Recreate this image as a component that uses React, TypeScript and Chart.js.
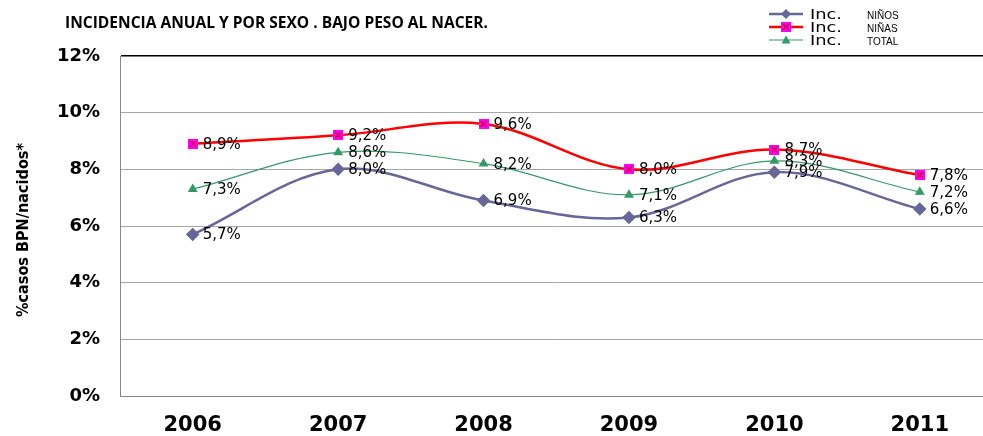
import React, { useEffect, useRef } from "react";
import { Chart, registerables } from "chart.js";

Chart.register(...registerables);

const categories = ["2006", "2007", "2008", "2009", "2010", "2011"];
const ninos = [5.7, 8.0, 6.9, 6.3, 7.9, 6.6];
const ninas = [8.9, 9.2, 9.6, 8.0, 8.7, 7.8];
const total = [7.3, 8.6, 8.2, 7.1, 8.3, 7.2];
const seriesNames = ["NIÑOS", "NIÑAS", "TOTAL"];
const legendPrefix = "Inc.";
const chartTitle = "INCIDENCIA ANUAL Y POR SEXO . BAJO PESO AL NACER.";
const yTitle = "%casos BPN/nacidos*";
const yMin = 0;
const yMax = 12;
const yStep = 2;

const colors = ["#666699", "#FF0000", "#339966"];

function makeCrossSquare(): HTMLCanvasElement {
  const c = document.createElement("canvas");
  c.width = 10;
  c.height = 10;
  const g = c.getContext("2d")!;
  g.fillStyle = "#FF00FF";
  g.fillRect(0, 0, 10, 10);
  g.strokeStyle = "#CC0033";
  g.lineWidth = 1.5;
  g.beginPath();
  g.moveTo(2, 2);
  g.lineTo(8, 8);
  g.moveTo(8, 2);
  g.lineTo(2, 8);
  g.stroke();
  return c;
}

function fitText(ctx: CanvasRenderingContext2D, text: string, x: number, y: number, width: number) {
  const w = ctx.measureText(text).width;
  ctx.save();
  ctx.translate(x, y);
  ctx.scale(width / w, 1);
  ctx.fillText(text, 0, 0);
  ctx.restore();
}

function fmt(v: number) {
  return v.toFixed(1).replace(".", ",") + "%";
}

function drawMarker(ctx: CanvasRenderingContext2D, style: any, x: number, y: number, color: string) {
  ctx.save();
  ctx.fillStyle = color;
  if (style === "rectRot") {
    ctx.beginPath();
    ctx.moveTo(x, y - 5);
    ctx.lineTo(x + 5, y);
    ctx.lineTo(x, y + 5);
    ctx.lineTo(x - 5, y);
    ctx.closePath();
    ctx.fill();
  } else if (style === "triangle") {
    ctx.beginPath();
    ctx.moveTo(x, y - 4.5);
    ctx.lineTo(x + 4.5, y + 3.5);
    ctx.lineTo(x - 4.5, y + 3.5);
    ctx.closePath();
    ctx.fill();
  } else if (style instanceof HTMLCanvasElement) {
    ctx.drawImage(style, x - 5, y - 5);
  }
  ctx.restore();
}

export default function App() {
  const ref = useRef<HTMLCanvasElement | null>(null);

  useEffect(() => {
    if (!ref.current) return;
    const crossSquare = makeCrossSquare();

    const decorPlugin = {
      id: "decor",
      afterDatasetsDraw(chart: any) {
        const ctx: CanvasRenderingContext2D = chart.ctx;
        ctx.save();
        ctx.fillStyle = "#000";
        ctx.font = "15px 'DejaVu Sans'";
        ctx.textAlign = "left";
        ctx.textBaseline = "middle";
        chart.data.datasets.forEach((ds: any, i: number) => {
          const meta = chart.getDatasetMeta(i);
          meta.data.forEach((pt: any, j: number) => {
            ctx.fillText(fmt(ds.data[j]), pt.x + 10, pt.y + 1);
          });
        });
        ctx.restore();
      },
      afterDraw(chart: any) {
        const ctx: CanvasRenderingContext2D = chart.ctx;
        ctx.save();
        // title
        ctx.fillStyle = "#000";
        ctx.font = "bold 16px 'Open Sans'";
        ctx.textAlign = "left";
        ctx.textBaseline = "alphabetic";
        fitText(ctx, chartTitle, 65, 28, 423);

        // y title
        ctx.save();
        ctx.translate(28, 230);
        ctx.rotate(-Math.PI / 2);
        ctx.font = "bold 15px 'DejaVu Sans Condensed'";
        ctx.textAlign = "left";
        ctx.textBaseline = "alphabetic";
        const w = ctx.measureText(yTitle).width;
        ctx.scale(174 / w, 1);
        ctx.fillText(yTitle, -w / 2, 0);
        ctx.restore();

        // legend
        const rows = [14, 27, 40];
        chart.data.datasets.forEach((ds: any, i: number) => {
          const y = rows[i];
          ctx.strokeStyle = ds.borderColor;
          ctx.lineWidth = i === 2 ? 1.2 : 2.5;
          ctx.beginPath();
          ctx.moveTo(769, y);
          ctx.lineTo(803, y);
          ctx.stroke();
          drawMarker(ctx, ds.pointStyle, 786, y, ds.pointBackgroundColor);
          ctx.fillStyle = "#000";
          ctx.font = "14px 'DejaVu Sans'";
          ctx.textBaseline = "alphabetic";
          fitText(ctx, legendPrefix, 810, y + 5, 32);
          ctx.font = "10px 'Liberation Sans'";
          ctx.textBaseline = "middle";
          ctx.fillText(seriesNames[i], 867, y + 2);
        });
        ctx.restore();
      },
    };

    const chart = new Chart(ref.current, {
      type: "line",
      data: {
        labels: categories,
        datasets: [
          {
            label: seriesNames[0],
            data: ninos,
            borderColor: colors[0],
            backgroundColor: colors[0],
            pointBackgroundColor: colors[0],
            pointBorderColor: colors[0],
            pointStyle: "rectRot",
            pointRadius: 5,
            borderWidth: 2.5,
            tension: 0.35,
          },
          {
            label: seriesNames[1],
            data: ninas,
            borderColor: colors[1],
            backgroundColor: "#FF00FF",
            pointBackgroundColor: "#FF00FF",
            pointBorderColor: "#FF00FF",
            pointStyle: crossSquare as any,
            pointRadius: 5,
            borderWidth: 2.5,
            tension: 0.35,
          },
          {
            label: seriesNames[2],
            data: total,
            borderColor: colors[2],
            backgroundColor: colors[2],
            pointBackgroundColor: colors[2],
            pointBorderColor: colors[2],
            pointStyle: "triangle",
            pointRadius: 4.5,
            borderWidth: 1.2,
            tension: 0.35,
          },
        ],
      },
      options: {
        responsive: false,
        animation: false,
        devicePixelRatio: 1,
        layout: { padding: { top: 56, right: 2, left: 1, bottom: 0 } },
        plugins: {
          legend: { display: false },
          title: { display: false },
          tooltip: { enabled: false },
        },
        scales: {
          x: {
            offset: true,
            grid: { display: false, drawTicks: false },
            border: { display: true, color: "#888888", width: 1 },
            ticks: {
              color: "#000",
              padding: 17,
              font: { family: "'DejaVu Sans'", weight: "bold", size: 21 },
            },
            afterFit(scale: any) {
              scale.height = 40;
            },
          },
          y: {
            min: yMin,
            max: yMax,
            grid: {
              drawTicks: false,
              color: (c: any) => (c.tick && c.tick.value === yMax ? "#000000" : "#A6A6A6"),
              lineWidth: (c: any) => (c.tick && c.tick.value === yMax ? 1.5 : 1),
            },
            border: { display: true, color: "#888888", width: 1 },
            ticks: {
              stepSize: yStep,
              color: "#000",
              padding: 20,
              font: { family: "'DejaVu Sans'", weight: "bold", size: 18 },
              callback: (v: any) => v + "%",
            },
            afterFit(scale: any) {
              scale.width = 119;
            },
          },
        },
      },
      plugins: [decorPlugin],
    } as any);

    return () => chart.destroy();
  }, []);

  return (
    <div
      style={{
        position: "fixed",
        left: 0,
        top: 0,
        width: 983,
        height: 436,
        overflow: "hidden",
        background: "#fff",
      }}
    >
      <canvas ref={ref} width={1000} height={436} style={{ display: "block" }} />
    </div>
  );
}
